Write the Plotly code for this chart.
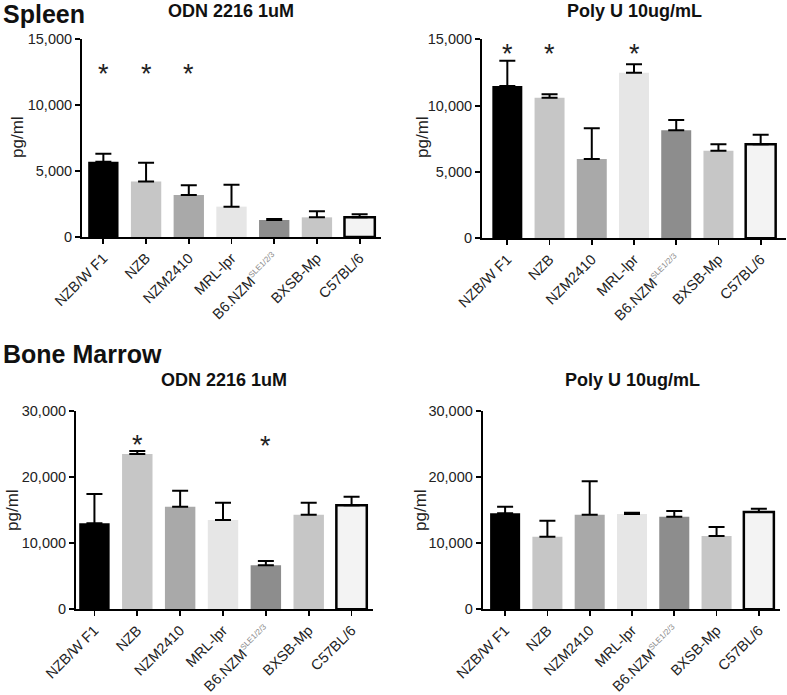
import plotly.graph_objects as go

# ---------------- data ----------------
strains = ["NZB/W F1", "NZB", "NZM2410", "MRL-lpr", "B6.NZM", "BXSB-Mp", "C57BL/6"]
tick_labels = ["NZB/W F1", "NZB", "NZM2410", "MRL-lpr",
               "B6.NZM<sup><span style='color:#8a8a8a;font-size:8px'>SLE1/2/3</span></sup>",
               "BXSB-Mp", "C57BL/6"]
bar_colors = ["#000000", "#c6c6c6", "#a9a9a9", "#e6e6e6", "#8d8d8d", "#c6c6c6", "#f3f3f3"]
bar_outline = [0, 0, 0, 0, 0, 0, 2.5]

spleen_odn_mean = [5700, 4200, 3180, 2300, 1290, 1490, 1500]
spleen_odn_err = [600, 1430, 740, 1660, 70, 460, 220]
spleen_polyu_mean = [11480, 10600, 5980, 12480, 8140, 6600, 7090]
spleen_polyu_err = [1910, 250, 2310, 640, 780, 490, 720]
bm_odn_mean = [12990, 23460, 15500, 13490, 6650, 14290, 15710]
bm_odn_err = [4430, 450, 2420, 2610, 650, 1810, 1300]
bm_polyu_mean = [14500, 10970, 14290, 14400, 13990, 11070, 14700]
bm_polyu_err = [1000, 2410, 5050, 200, 860, 1360, 500]

# significance markers: category index and height (pg/ml)
spleen_odn_star_idx = [0, 1, 2]
spleen_odn_star_y = [12600, 12600, 12600]
spleen_polyu_star_idx = [0, 1, 3]
spleen_polyu_star_y = [14150, 14150, 14150]
bm_odn_star_idx = [1, 4]
bm_odn_star_y = [25300, 25100]
bm_polyu_star_idx = []
bm_polyu_star_y = []

panel_titles = ["ODN 2216 1uM", "Poly U 10ug/mL", "ODN 2216 1uM", "Poly U 10ug/mL"]
section_titles = ["Spleen", "Bone Marrow"]
y_title = "pg/ml"

# ---------------- layout helpers ----------------
W, H = 787, 695
def px(x):
    return x / W
def py(y):
    return 1 - y / H

FONT = "Arial, Liberation Sans, sans-serif"

panels = [
    dict(mean=spleen_odn_mean, err=spleen_odn_err, sidx=spleen_odn_star_idx, sy=spleen_odn_star_y,
         x0=82, x1=381, ytop=39, ybot=237, xr=[-0.5, 6.5], ymax=15000, dtick=5000),
    dict(mean=spleen_polyu_mean, err=spleen_polyu_err, sidx=spleen_polyu_star_idx, sy=spleen_polyu_star_y,
         x0=482, x1=786, ytop=39.3, ybot=238.3, xr=[-0.6, 6.6], ymax=15000, dtick=5000),
    dict(mean=bm_odn_mean, err=bm_odn_err, sidx=bm_odn_star_idx, sy=bm_odn_star_y,
         x0=76, x1=373, ytop=410.7, ybot=609.3, xr=[-0.43, 6.5], ymax=30000, dtick=10000),
    dict(mean=bm_polyu_mean, err=bm_polyu_err, sidx=bm_polyu_star_idx, sy=bm_polyu_star_y,
         x0=482.7, x1=780, ytop=410.7, ybot=609.3, xr=[-0.53, 6.5], ymax=30000, dtick=10000),
]

fig = go.Figure()
layout = dict(
    width=W, height=H, margin=dict(l=0, r=0, t=0, b=0, autoexpand=False),
    paper_bgcolor="white", plot_bgcolor="white", template="none",
    showlegend=False, font=dict(family=FONT, color="#222"),
    annotations=[],
)

title_pos = [(231, 11), (634, 11), (224, 380), (632, 380)]
ytitle_pos = [(17, 137), (422, 137), (12, 510), (420, 510)]

for i, p in enumerate(panels):
    n = "" if i == 0 else str(i + 1)
    xa, ya = "x" + n, "y" + n
    fig.add_trace(go.Bar(
        x=list(range(len(strains))), y=p["mean"], width=0.71,
        marker=dict(color=bar_colors, line=dict(color="black", width=bar_outline)),
        error_y=dict(type="data", symmetric=False, array=p["err"],
                     arrayminus=[0] * len(strains), color="black", thickness=2, width=8),
        xaxis=xa, yaxis=ya, hoverinfo="skip",
    ))
    layout["xaxis" + n] = dict(
        domain=[px(p["x0"]), px(p["x1"])], anchor=ya, range=p["xr"], automargin=False,
        tickmode="array", tickvals=list(range(len(strains))), ticktext=tick_labels,
        tickangle=-45, ticks="outside", ticklen=5, tickwidth=1.8, tickcolor="black",
        showline=True, linecolor="black", linewidth=2, showgrid=False, zeroline=False,
        tickfont=dict(family=FONT, size=14.5, color="#222"),
    )
    layout["yaxis" + n] = dict(
        domain=[py(p["ybot"]), py(p["ytop"])], anchor=xa, range=[0, p["ymax"]], automargin=False,
        tickmode="linear", tick0=0, dtick=p["dtick"], tickformat=",d",
        ticks="outside", ticklen=5, tickwidth=1.8, tickcolor="black",
        showline=True, linecolor="black", linewidth=2, showgrid=False, zeroline=False,
        tickfont=dict(family=FONT, size=14.5, color="#222"),
    )
    for k, yv in zip(p["sidx"], p["sy"]):
        layout["annotations"].append(dict(
            x=k, y=yv, xref=xa, yref=ya, text="*", showarrow=False,
            font=dict(family=FONT, size=27, color="#222"), yshift=-3,
        ))
    tx, ty = title_pos[i]
    layout["annotations"].append(dict(
        x=px(tx), y=py(ty), xref="paper", yref="paper", text="<b>%s</b>" % panel_titles[i],
        showarrow=False, xanchor="center", yanchor="middle",
        font=dict(family=FONT, size=18, color="#111"),
    ))
    yx, yy = ytitle_pos[i]
    layout["annotations"].append(dict(
        x=px(yx), y=py(yy), xref="paper", yref="paper", text=y_title, textangle=-90,
        showarrow=False, xanchor="center", yanchor="middle",
        font=dict(family=FONT, size=17, color="#222"),
    ))

for (sx, sy), t in zip([(1, 14), (1, 354)], section_titles):
    layout["annotations"].append(dict(
        x=px(sx), y=py(sy), xref="paper", yref="paper", text="<b>%s</b>" % t,
        showarrow=False, xanchor="left", yanchor="middle",
        font=dict(family=FONT, size=25, color="#111"),
    ))

fig.update_layout(**layout)
fig.write_html("out.html", config={"displayModeBar": False, "staticPlot": True},
               post_script="document.body.style.margin='0px';")
